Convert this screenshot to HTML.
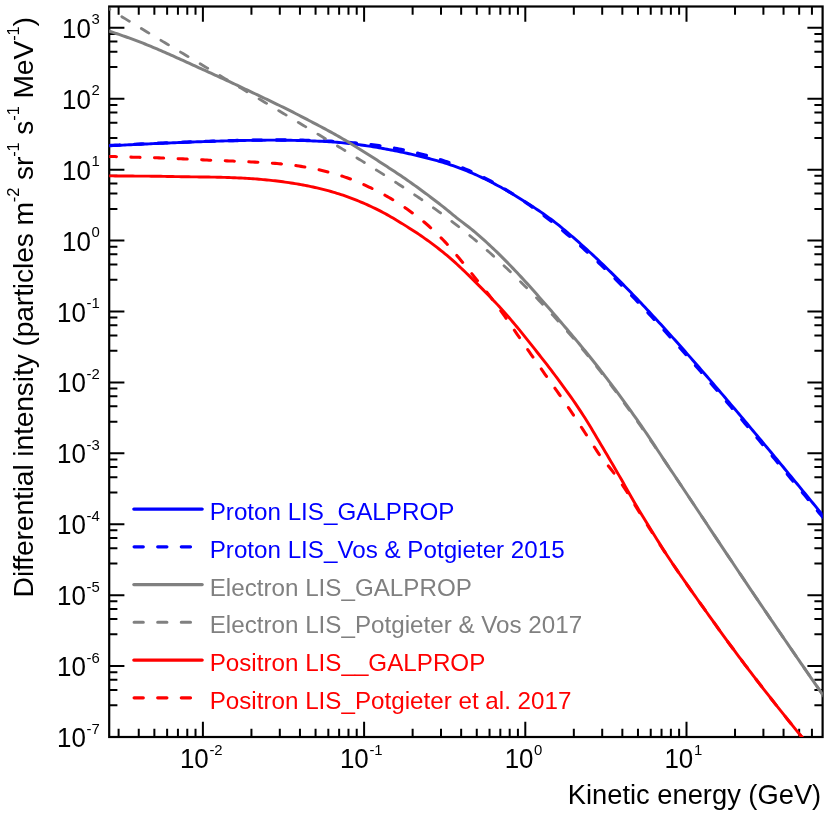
<!DOCTYPE html>
<html><head><meta charset="utf-8"><title>LIS</title>
<style>html,body{margin:0;padding:0;background:#fff;width:830px;height:830px;overflow:hidden}</style></head>
<body>
<svg width="830" height="830" viewBox="0 0 830 830" style="position:absolute;left:0;top:0;will-change:transform;font-family:'Liberation Sans',sans-serif">
<rect x="0" y="0" width="830" height="830" fill="#fff"/>
<defs><clipPath id="c"><rect x="109.2" y="6.5" width="713.4" height="730.5"/></clipPath></defs>
<path d="M202.90 737.0 V721.8 M202.90 6.5 V21.7 M364.10 737.0 V721.8 M364.10 6.5 V21.7 M525.30 737.0 V721.8 M525.30 6.5 V21.7 M686.50 737.0 V721.8 M686.50 6.5 V21.7 M118.61 737.0 V728.8 M118.61 6.5 V14.7 M138.75 737.0 V728.8 M138.75 6.5 V14.7 M154.37 737.0 V728.8 M154.37 6.5 V14.7 M167.14 737.0 V728.8 M167.14 6.5 V14.7 M177.93 737.0 V728.8 M177.93 6.5 V14.7 M187.28 737.0 V728.8 M187.28 6.5 V14.7 M195.52 737.0 V728.8 M195.52 6.5 V14.7 M251.43 737.0 V728.8 M251.43 6.5 V14.7 M279.81 737.0 V728.8 M279.81 6.5 V14.7 M299.95 737.0 V728.8 M299.95 6.5 V14.7 M315.57 737.0 V728.8 M315.57 6.5 V14.7 M328.34 737.0 V728.8 M328.34 6.5 V14.7 M339.13 737.0 V728.8 M339.13 6.5 V14.7 M348.48 737.0 V728.8 M348.48 6.5 V14.7 M356.72 737.0 V728.8 M356.72 6.5 V14.7 M412.63 737.0 V728.8 M412.63 6.5 V14.7 M441.01 737.0 V728.8 M441.01 6.5 V14.7 M461.15 737.0 V728.8 M461.15 6.5 V14.7 M476.77 737.0 V728.8 M476.77 6.5 V14.7 M489.54 737.0 V728.8 M489.54 6.5 V14.7 M500.33 737.0 V728.8 M500.33 6.5 V14.7 M509.68 737.0 V728.8 M509.68 6.5 V14.7 M517.92 737.0 V728.8 M517.92 6.5 V14.7 M573.83 737.0 V728.8 M573.83 6.5 V14.7 M602.21 737.0 V728.8 M602.21 6.5 V14.7 M622.35 737.0 V728.8 M622.35 6.5 V14.7 M637.97 737.0 V728.8 M637.97 6.5 V14.7 M650.74 737.0 V728.8 M650.74 6.5 V14.7 M661.53 737.0 V728.8 M661.53 6.5 V14.7 M670.88 737.0 V728.8 M670.88 6.5 V14.7 M679.12 737.0 V728.8 M679.12 6.5 V14.7 M735.03 737.0 V728.8 M735.03 6.5 V14.7 M763.41 737.0 V728.8 M763.41 6.5 V14.7 M783.55 737.0 V728.8 M783.55 6.5 V14.7 M799.17 737.0 V728.8 M799.17 6.5 V14.7 M811.94 737.0 V728.8 M811.94 6.5 V14.7 M109.2 737.00 H124.4 M822.6 737.00 H807.4 M109.2 705.29 H117.4 M822.6 705.29 H814.4 M109.2 690.00 H117.4 M822.6 690.00 H814.4 M109.2 679.83 H117.4 M822.6 679.83 H814.4 M109.2 672.20 H117.4 M822.6 672.20 H814.4 M109.2 666.09 H124.4 M822.6 666.09 H807.4 M109.2 634.37 H117.4 M822.6 634.37 H814.4 M109.2 619.09 H117.4 M822.6 619.09 H814.4 M109.2 608.91 H117.4 M822.6 608.91 H814.4 M109.2 601.28 H117.4 M822.6 601.28 H814.4 M109.2 595.17 H124.4 M822.6 595.17 H807.4 M109.2 563.46 H117.4 M822.6 563.46 H814.4 M109.2 548.17 H117.4 M822.6 548.17 H814.4 M109.2 538.00 H117.4 M822.6 538.00 H814.4 M109.2 530.37 H117.4 M822.6 530.37 H814.4 M109.2 524.25 H124.4 M822.6 524.25 H807.4 M109.2 492.54 H117.4 M822.6 492.54 H814.4 M109.2 477.26 H117.4 M822.6 477.26 H814.4 M109.2 467.08 H117.4 M822.6 467.08 H814.4 M109.2 459.45 H117.4 M822.6 459.45 H814.4 M109.2 453.34 H124.4 M822.6 453.34 H807.4 M109.2 421.63 H117.4 M822.6 421.63 H814.4 M109.2 406.34 H117.4 M822.6 406.34 H814.4 M109.2 396.17 H117.4 M822.6 396.17 H814.4 M109.2 388.54 H117.4 M822.6 388.54 H814.4 M109.2 382.43 H124.4 M822.6 382.43 H807.4 M109.2 350.71 H117.4 M822.6 350.71 H814.4 M109.2 335.43 H117.4 M822.6 335.43 H814.4 M109.2 325.25 H117.4 M822.6 325.25 H814.4 M109.2 317.62 H117.4 M822.6 317.62 H814.4 M109.2 311.51 H124.4 M822.6 311.51 H807.4 M109.2 279.80 H117.4 M822.6 279.80 H814.4 M109.2 264.51 H117.4 M822.6 264.51 H814.4 M109.2 254.34 H117.4 M822.6 254.34 H814.4 M109.2 246.71 H117.4 M822.6 246.71 H814.4 M109.2 240.59 H124.4 M822.6 240.59 H807.4 M109.2 208.88 H117.4 M822.6 208.88 H814.4 M109.2 193.60 H117.4 M822.6 193.60 H814.4 M109.2 183.42 H117.4 M822.6 183.42 H814.4 M109.2 175.79 H117.4 M822.6 175.79 H814.4 M109.2 169.68 H124.4 M822.6 169.68 H807.4 M109.2 137.97 H117.4 M822.6 137.97 H814.4 M109.2 122.68 H117.4 M822.6 122.68 H814.4 M109.2 112.51 H117.4 M822.6 112.51 H814.4 M109.2 104.88 H117.4 M822.6 104.88 H814.4 M109.2 98.77 H124.4 M822.6 98.77 H807.4 M109.2 67.05 H117.4 M822.6 67.05 H814.4 M109.2 51.77 H117.4 M822.6 51.77 H814.4 M109.2 41.59 H117.4 M822.6 41.59 H814.4 M109.2 33.96 H117.4 M822.6 33.96 H814.4 M109.2 27.85 H124.4 M822.6 27.85 H807.4" stroke="#000" stroke-width="2" fill="none"/>
<rect x="109.2" y="6.5" width="713.4" height="730.5" fill="none" stroke="#000" stroke-width="2.2"/>
<g clip-path="url(#c)" fill="none" stroke-linejoin="round">
<polyline points="105.00,146.06 107.00,145.96 109.00,145.85 111.00,145.74 113.00,145.64 115.00,145.53 117.00,145.43 119.00,145.33 121.00,145.22 123.00,145.12 125.00,145.02 127.00,144.92 129.00,144.82 131.00,144.72 133.00,144.62 135.00,144.52 137.00,144.42 139.00,144.32 141.00,144.22 143.00,144.13 145.00,144.03 147.00,143.94 149.00,143.84 151.00,143.75 153.00,143.66 155.00,143.57 157.00,143.47 159.00,143.38 161.00,143.29 163.00,143.21 165.00,143.12 167.00,143.03 169.00,142.94 171.00,142.86 173.00,142.77 175.00,142.69 177.00,142.61 179.00,142.52 181.00,142.44 183.00,142.36 185.00,142.28 187.00,142.20 189.00,142.13 191.00,142.05 193.00,141.97 195.00,141.90 197.00,141.82 199.00,141.75 201.00,141.68 203.00,141.61 205.00,141.54 207.00,141.47 209.00,141.41 211.00,141.34 213.00,141.28 215.00,141.21 217.00,141.15 219.00,141.09 221.00,141.03 223.00,140.97 225.00,140.92 227.00,140.86 229.00,140.81 231.00,140.76 233.00,140.71 235.00,140.66 237.00,140.61 239.00,140.57 241.00,140.52 243.00,140.48 245.00,140.44 247.00,140.40 249.00,140.37 251.00,140.33 253.00,140.30 255.00,140.27 257.00,140.25 259.00,140.23 261.00,140.21 263.00,140.19 265.00,140.18 267.00,140.17 269.00,140.16 271.00,140.16 273.00,140.15 275.00,140.16 277.00,140.16 279.00,140.17 281.00,140.19 283.00,140.20 285.00,140.22 287.00,140.25 289.00,140.28 291.00,140.31 293.00,140.34 295.00,140.38 297.00,140.43 299.00,140.47 301.00,140.53 303.00,140.58 305.00,140.64 307.00,140.71 309.00,140.78 311.00,140.85 313.00,140.93 315.00,141.01 317.00,141.10 319.00,141.19 321.00,141.29 323.00,141.39 325.00,141.50 327.00,141.61 329.00,141.73 331.00,141.86 333.00,141.99 335.00,142.14 337.00,142.30 339.00,142.46 341.00,142.64 343.00,142.83 345.00,143.03 347.00,143.23 349.00,143.45 351.00,143.68 353.00,143.91 355.00,144.16 357.00,144.41 359.00,144.67 361.00,144.94 363.00,145.22 365.00,145.51 367.00,145.81 369.00,146.11 371.00,146.43 373.00,146.75 375.00,147.07 377.00,147.41 379.00,147.75 381.00,148.11 383.00,148.46 385.00,148.83 387.00,149.20 389.00,149.58 391.00,149.97 393.00,150.36 395.00,150.76 397.00,151.17 399.00,151.58 401.00,152.00 403.00,152.43 405.00,152.86 407.00,153.29 409.00,153.74 411.00,154.19 413.00,154.64 415.00,155.10 417.00,155.56 419.00,156.04 421.00,156.52 423.00,157.00 425.00,157.50 427.00,158.00 429.00,158.52 431.00,159.05 433.00,159.58 435.00,160.13 437.00,160.69 439.00,161.27 441.00,161.86 443.00,162.46 445.00,163.07 447.00,163.71 449.00,164.36 451.00,165.02 453.00,165.70 455.00,166.40 457.00,167.12 459.00,167.86 461.00,168.62 463.00,169.39 465.00,170.18 467.00,170.99 469.00,171.82 471.00,172.66 473.00,173.52 475.00,174.40 477.00,175.29 479.00,176.20 481.00,177.13 483.00,178.08 485.00,179.04 487.00,180.02 489.00,181.02 491.00,182.03 493.00,183.06 495.00,184.10 497.00,185.17 499.00,186.25 501.00,187.34 503.00,188.45 505.00,189.58 507.00,190.72 509.00,191.88 511.00,193.06 513.00,194.25 515.00,195.45 517.00,196.67 519.00,197.91 521.00,199.16 523.00,200.41 525.00,201.67 527.00,202.94 529.00,204.22 531.00,205.50 533.00,206.80 535.00,208.11 537.00,209.44 539.00,210.78 541.00,212.14 543.00,213.52 545.00,214.93 547.00,216.35 549.00,217.80 551.00,219.28 553.00,220.78 555.00,222.32 557.00,223.88 559.00,225.48 561.00,227.11 563.00,228.75 565.00,230.41 567.00,232.09 569.00,233.78 571.00,235.49 573.00,237.21 575.00,238.94 577.00,240.69 579.00,242.45 581.00,244.23 583.00,246.02 585.00,247.82 587.00,249.63 589.00,251.46 591.00,253.31 593.00,255.16 595.00,257.03 597.00,258.91 599.00,260.80 601.00,262.70 603.00,264.62 605.00,266.55 607.00,268.49 609.00,270.44 611.00,272.40 613.00,274.37 615.00,276.35 617.00,278.35 619.00,280.35 621.00,282.37 623.00,284.39 625.00,286.43 627.00,288.47 629.00,290.53 631.00,292.59 633.00,294.67 635.00,296.75 637.00,298.84 639.00,300.94 641.00,303.05 643.00,305.17 645.00,307.30 647.00,309.43 649.00,311.57 651.00,313.72 653.00,315.88 655.00,318.05 657.00,320.22 659.00,322.40 661.00,324.59 663.00,326.78 665.00,328.98 667.00,331.19 669.00,333.40 671.00,335.62 673.00,337.85 675.00,340.08 677.00,342.32 679.00,344.56 681.00,346.81 683.00,349.07 685.00,351.33 687.00,353.60 689.00,355.87 691.00,358.14 693.00,360.43 695.00,362.71 697.00,365.00 699.00,367.30 701.00,369.60 703.00,371.90 705.00,374.21 707.00,376.53 709.00,378.84 711.00,381.17 713.00,383.49 715.00,385.82 717.00,388.15 719.00,390.49 721.00,392.83 723.00,395.17 725.00,397.52 727.00,399.87 729.00,402.23 731.00,404.58 733.00,406.95 735.00,409.31 737.00,411.68 739.00,414.05 741.00,416.42 743.00,418.79 745.00,421.17 747.00,423.55 749.00,425.93 751.00,428.32 753.00,430.71 755.00,433.10 757.00,435.49 759.00,437.89 761.00,440.28 763.00,442.68 765.00,445.08 767.00,447.49 769.00,449.89 771.00,452.30 773.00,454.71 775.00,457.12 777.00,459.54 779.00,461.95 781.00,464.37 783.00,466.79 785.00,469.21 787.00,471.63 789.00,474.05 791.00,476.48 793.00,478.90 795.00,481.33 797.00,483.76 799.00,486.19 801.00,488.63 803.00,491.06 805.00,493.49 807.00,495.93 809.00,498.37 811.00,500.81 813.00,503.25 815.00,505.69 817.00,508.13 819.00,510.57 821.00,513.02 823.00,515.46 825.00,517.91 827.00,520.36" stroke="#0000ff" stroke-width="2.9"/>
<polyline points="105.00,145.69 107.00,145.60 109.00,145.50 111.00,145.41 113.00,145.31 115.00,145.21 117.00,145.12 119.00,145.03 121.00,144.93 123.00,144.84 125.00,144.74 127.00,144.65 129.00,144.56 131.00,144.47 133.00,144.37 135.00,144.28 137.00,144.19 139.00,144.10 141.00,144.01 143.00,143.92 145.00,143.83 147.00,143.74 149.00,143.65 151.00,143.56 153.00,143.48 155.00,143.39 157.00,143.30 159.00,143.22 161.00,143.13 163.00,143.05 165.00,142.96 167.00,142.88 169.00,142.80 171.00,142.71 173.00,142.63 175.00,142.55 177.00,142.47 179.00,142.39 181.00,142.31 183.00,142.23 185.00,142.16 187.00,142.08 189.00,142.01 191.00,141.93 193.00,141.86 195.00,141.78 197.00,141.71 199.00,141.64 201.00,141.57 203.00,141.50 205.00,141.43 207.00,141.37 209.00,141.30 211.00,141.24 213.00,141.17 215.00,141.11 217.00,141.05 219.00,140.99 221.00,140.93 223.00,140.87 225.00,140.82 227.00,140.76 229.00,140.71 231.00,140.66 233.00,140.61 235.00,140.56 237.00,140.51 239.00,140.47 241.00,140.42 243.00,140.38 245.00,140.34 247.00,140.30 249.00,140.27 251.00,140.23 253.00,140.20 255.00,140.17 257.00,140.14 259.00,140.12 261.00,140.09 263.00,140.07 265.00,140.05 267.00,140.04 269.00,140.02 271.00,140.01 273.00,140.00 275.00,140.00 277.00,139.99 279.00,139.99 281.00,139.99 283.00,140.00 285.00,140.01 287.00,140.02 289.00,140.03 291.00,140.05 293.00,140.07 295.00,140.10 297.00,140.12 299.00,140.16 301.00,140.19 303.00,140.23 305.00,140.28 307.00,140.32 309.00,140.37 311.00,140.43 313.00,140.49 315.00,140.56 317.00,140.63 319.00,140.70 321.00,140.78 323.00,140.86 325.00,140.95 327.00,141.04 329.00,141.14 331.00,141.25 333.00,141.36 335.00,141.47 337.00,141.60 339.00,141.72 341.00,141.86 343.00,142.00 345.00,142.14 347.00,142.30 349.00,142.46 351.00,142.62 353.00,142.79 355.00,142.97 357.00,143.16 359.00,143.36 361.00,143.56 363.00,143.77 365.00,143.99 367.00,144.21 369.00,144.45 371.00,144.69 373.00,144.94 375.00,145.20 377.00,145.47 379.00,145.75 381.00,146.04 383.00,146.33 385.00,146.64 387.00,146.96 389.00,147.28 391.00,147.62 393.00,147.97 395.00,148.32 397.00,148.69 399.00,149.07 401.00,149.46 403.00,149.86 405.00,150.28 407.00,150.70 409.00,151.14 411.00,151.59 413.00,152.05 415.00,152.52 417.00,153.01 419.00,153.51 421.00,154.02 423.00,154.54 425.00,155.08 427.00,155.63 429.00,156.20 431.00,156.78 433.00,157.37 435.00,157.98 437.00,158.60 439.00,159.24 441.00,159.89 443.00,160.55 445.00,161.24 447.00,161.93 449.00,162.64 451.00,163.37 453.00,164.11 455.00,164.87 457.00,165.65 459.00,166.44 461.00,167.24 463.00,168.06 465.00,168.90 467.00,169.76 469.00,170.63 471.00,171.52 473.00,172.42 475.00,173.35 477.00,174.28 479.00,175.24 481.00,176.21 483.00,177.20 485.00,178.21 487.00,179.23 489.00,180.28 491.00,181.33 493.00,182.41 495.00,183.50 497.00,184.61 499.00,185.74 501.00,186.89 503.00,188.05 505.00,189.23 507.00,190.43 509.00,191.64 511.00,192.88 513.00,194.12 515.00,195.39 517.00,196.67 519.00,197.98 521.00,199.29 523.00,200.63 525.00,201.98 527.00,203.35 529.00,204.73 531.00,206.14 533.00,207.56 535.00,208.99 537.00,210.44 539.00,211.91 541.00,213.40 543.00,214.90 545.00,216.41 547.00,217.95 549.00,219.50 551.00,221.06 553.00,222.64 555.00,224.23 557.00,225.85 559.00,227.47 561.00,229.11 563.00,230.77 565.00,232.44 567.00,234.12 569.00,235.82 571.00,237.54 573.00,239.26 575.00,241.01 577.00,242.76 579.00,244.53 581.00,246.31 583.00,248.11 585.00,249.92 587.00,251.74 589.00,253.58 591.00,255.42 593.00,257.28 595.00,259.16 597.00,261.04 599.00,262.94 601.00,264.85 603.00,266.77 605.00,268.70 607.00,270.64 609.00,272.60 611.00,274.56 613.00,276.54 615.00,278.53 617.00,280.52 619.00,282.53 621.00,284.55 623.00,286.58 625.00,288.62 627.00,290.66 629.00,292.72 631.00,294.79 633.00,296.86 635.00,298.95 637.00,301.04 639.00,303.14 641.00,305.25 643.00,307.37 645.00,309.50 647.00,311.63 649.00,313.77 651.00,315.92 653.00,318.08 655.00,320.25 657.00,322.42 659.00,324.60 661.00,326.79 663.00,328.98 665.00,331.18 667.00,333.39 669.00,335.60 671.00,337.82 673.00,340.05 675.00,342.28 677.00,344.52 679.00,346.76 681.00,349.01 683.00,351.27 685.00,353.53 687.00,355.79 689.00,358.07 691.00,360.34 693.00,362.62 695.00,364.91 697.00,367.20 699.00,369.49 701.00,371.79 703.00,374.10 705.00,376.41 707.00,378.72 709.00,381.04 711.00,383.36 713.00,385.68 715.00,388.01 717.00,390.34 719.00,392.68 721.00,395.02 723.00,397.36 725.00,399.71 727.00,402.06 729.00,404.41 731.00,406.77 733.00,409.13 735.00,411.49 737.00,413.85 739.00,416.22 741.00,418.59 743.00,420.97 745.00,423.34 747.00,425.72 749.00,428.10 751.00,430.48 753.00,432.87 755.00,435.26 757.00,437.65 759.00,440.04 761.00,442.44 763.00,444.83 765.00,447.23 767.00,449.63 769.00,452.04 771.00,454.44 773.00,456.85 775.00,459.26 777.00,461.67 779.00,464.08 781.00,466.49 783.00,468.91 785.00,471.32 787.00,473.74 789.00,476.16 791.00,478.58 793.00,481.00 795.00,483.43 797.00,485.85 799.00,488.28 801.00,490.71 803.00,493.14 805.00,495.57 807.00,498.00 809.00,500.43 811.00,502.86 813.00,505.30 815.00,507.73 817.00,510.17 819.00,512.61 821.00,515.05 823.00,517.49 825.00,519.93 827.00,522.37" stroke="#0000ff" stroke-width="3.3" stroke-dasharray="9.00 14.70" stroke-dashoffset="18.08" stroke-linecap="round"/>
<polyline points="105.00,29.81 107.00,30.42 109.00,31.05 111.00,31.72 113.00,32.39 115.00,33.06 117.00,33.74 119.00,34.43 121.00,35.12 123.00,35.81 125.00,36.51 127.00,37.22 129.00,37.94 131.00,38.66 133.00,39.39 135.00,40.13 137.00,40.89 139.00,41.65 141.00,42.42 143.00,43.20 145.00,43.99 147.00,44.80 149.00,45.62 151.00,46.45 153.00,47.28 155.00,48.12 157.00,48.97 159.00,49.83 161.00,50.69 163.00,51.56 165.00,52.43 167.00,53.31 169.00,54.19 171.00,55.08 173.00,55.97 175.00,56.87 177.00,57.77 179.00,58.67 181.00,59.57 183.00,60.48 185.00,61.39 187.00,62.30 189.00,63.21 191.00,64.12 193.00,65.03 195.00,65.94 197.00,66.85 199.00,67.76 201.00,68.67 203.00,69.58 205.00,70.49 207.00,71.39 209.00,72.30 211.00,73.21 213.00,74.12 215.00,75.03 217.00,75.95 219.00,76.86 221.00,77.78 223.00,78.70 225.00,79.62 227.00,80.54 229.00,81.47 231.00,82.40 233.00,83.33 235.00,84.26 237.00,85.20 239.00,86.14 241.00,87.09 243.00,88.03 245.00,88.98 247.00,89.93 249.00,90.88 251.00,91.83 253.00,92.78 255.00,93.73 257.00,94.69 259.00,95.64 261.00,96.59 263.00,97.54 265.00,98.50 267.00,99.46 269.00,100.42 271.00,101.38 273.00,102.34 275.00,103.31 277.00,104.28 279.00,105.26 281.00,106.24 283.00,107.22 285.00,108.21 287.00,109.20 289.00,110.20 291.00,111.20 293.00,112.21 295.00,113.22 297.00,114.24 299.00,115.27 301.00,116.31 303.00,117.35 305.00,118.40 307.00,119.45 309.00,120.50 311.00,121.54 313.00,122.59 315.00,123.64 317.00,124.68 319.00,125.73 321.00,126.79 323.00,127.84 325.00,128.91 327.00,129.98 329.00,131.06 331.00,132.15 333.00,133.25 335.00,134.36 337.00,135.48 339.00,136.62 341.00,137.77 343.00,138.93 345.00,140.12 347.00,141.32 349.00,142.54 351.00,143.77 353.00,145.00 355.00,146.24 357.00,147.48 359.00,148.72 361.00,149.97 363.00,151.22 365.00,152.48 367.00,153.74 369.00,155.01 371.00,156.27 373.00,157.55 375.00,158.83 377.00,160.11 379.00,161.39 381.00,162.68 383.00,163.98 385.00,165.28 387.00,166.58 389.00,167.89 391.00,169.20 393.00,170.52 395.00,171.85 397.00,173.17 399.00,174.51 401.00,175.86 403.00,177.23 405.00,178.60 407.00,179.98 409.00,181.38 411.00,182.79 413.00,184.21 415.00,185.63 417.00,187.07 419.00,188.52 421.00,189.98 423.00,191.45 425.00,192.93 427.00,194.42 429.00,195.92 431.00,197.43 433.00,198.95 435.00,200.48 437.00,202.02 439.00,203.56 441.00,205.12 443.00,206.69 445.00,208.26 447.00,209.87 449.00,211.51 451.00,213.16 453.00,214.81 455.00,216.45 457.00,218.06 459.00,219.62 461.00,221.16 463.00,222.68 465.00,224.20 467.00,225.72 469.00,227.27 471.00,228.84 473.00,230.46 475.00,232.13 477.00,233.83 479.00,235.56 481.00,237.32 483.00,239.11 485.00,240.92 487.00,242.75 489.00,244.61 491.00,246.48 493.00,248.37 495.00,250.28 497.00,252.20 499.00,254.13 501.00,256.09 503.00,258.08 505.00,260.09 507.00,262.12 509.00,264.18 511.00,266.25 513.00,268.35 515.00,270.46 517.00,272.58 519.00,274.71 521.00,276.86 523.00,279.01 525.00,281.19 527.00,283.38 529.00,285.60 531.00,287.83 533.00,290.07 535.00,292.33 537.00,294.59 539.00,296.87 541.00,299.14 543.00,301.42 545.00,303.70 547.00,305.98 549.00,308.27 551.00,310.58 553.00,312.89 555.00,315.22 557.00,317.56 559.00,319.91 561.00,322.26 563.00,324.61 565.00,326.97 567.00,329.32 569.00,331.67 571.00,334.02 573.00,336.37 575.00,338.74 577.00,341.12 579.00,343.51 581.00,345.92 583.00,348.34 585.00,350.78 587.00,353.23 589.00,355.70 591.00,358.19 593.00,360.69 595.00,363.21 597.00,365.74 599.00,368.29 601.00,370.86 603.00,373.44 605.00,376.04 607.00,378.66 609.00,381.29 611.00,383.93 613.00,386.59 615.00,389.27 617.00,391.96 619.00,394.66 621.00,397.38 623.00,400.12 625.00,402.87 627.00,405.64 629.00,408.42 631.00,411.21 633.00,414.02 635.00,416.85 637.00,419.68 639.00,422.53 641.00,425.40 643.00,428.30 645.00,431.23 647.00,434.18 649.00,437.16 651.00,440.15 653.00,443.16 655.00,446.19 657.00,449.21 659.00,452.25 661.00,455.28 663.00,458.30 665.00,461.32 667.00,464.33 669.00,467.32 671.00,470.29 673.00,473.27 675.00,476.25 677.00,479.24 679.00,482.22 681.00,485.22 683.00,488.21 685.00,491.21 687.00,494.21 689.00,497.21 691.00,500.22 693.00,503.23 695.00,506.23 697.00,509.24 699.00,512.25 701.00,515.26 703.00,518.27 705.00,521.28 707.00,524.29 709.00,527.30 711.00,530.30 713.00,533.31 715.00,536.32 717.00,539.32 719.00,542.32 721.00,545.32 723.00,548.32 725.00,551.32 727.00,554.31 729.00,557.30 731.00,560.29 733.00,563.28 735.00,566.27 737.00,569.25 739.00,572.23 741.00,575.21 743.00,578.18 745.00,581.15 747.00,584.12 749.00,587.09 751.00,590.05 753.00,593.01 755.00,595.97 757.00,598.93 759.00,601.88 761.00,604.83 763.00,607.77 765.00,610.72 767.00,613.66 769.00,616.60 771.00,619.54 773.00,622.47 775.00,625.40 777.00,628.33 779.00,631.25 781.00,634.18 783.00,637.10 785.00,640.02 787.00,642.93 789.00,645.85 791.00,648.76 793.00,651.67 795.00,654.58 797.00,657.49 799.00,660.39 801.00,663.29 803.00,666.20 805.00,669.10 807.00,671.99 809.00,674.89 811.00,677.78 813.00,680.68 815.00,683.57 817.00,686.46 819.00,689.35 821.00,692.23 823.00,695.12 825.00,698.01 827.00,700.89" stroke="#808080" stroke-width="3.0"/>
<polyline points="105.00,6.42 107.00,7.65 109.00,8.88 111.00,10.11 113.00,11.34 115.00,12.56 117.00,13.78 119.00,15.00 121.00,16.22 123.00,17.44 125.00,18.66 127.00,19.87 129.00,21.09 131.00,22.30 133.00,23.51 135.00,24.72 137.00,25.93 139.00,27.14 141.00,28.35 143.00,29.56 145.00,30.76 147.00,31.97 149.00,33.17 151.00,34.38 153.00,35.58 155.00,36.78 157.00,37.98 159.00,39.18 161.00,40.38 163.00,41.58 165.00,42.78 167.00,43.98 169.00,45.18 171.00,46.38 173.00,47.57 175.00,48.77 177.00,49.97 179.00,51.16 181.00,52.36 183.00,53.55 185.00,54.75 187.00,55.94 189.00,57.14 191.00,58.33 193.00,59.53 195.00,60.72 197.00,61.91 199.00,63.11 201.00,64.30 203.00,65.49 205.00,66.69 207.00,67.88 209.00,69.07 211.00,70.26 213.00,71.46 215.00,72.65 217.00,73.84 219.00,75.03 221.00,76.23 223.00,77.42 225.00,78.61 227.00,79.80 229.00,80.99 231.00,82.19 233.00,83.38 235.00,84.57 237.00,85.76 239.00,86.95 241.00,88.15 243.00,89.34 245.00,90.53 247.00,91.72 249.00,92.92 251.00,94.11 253.00,95.30 255.00,96.49 257.00,97.69 259.00,98.88 261.00,100.07 263.00,101.27 265.00,102.46 267.00,103.65 269.00,104.85 271.00,106.04 273.00,107.24 275.00,108.43 277.00,109.63 279.00,110.82 281.00,112.02 283.00,113.21 285.00,114.41 287.00,115.61 289.00,116.80 291.00,118.00 293.00,119.20 295.00,120.40 297.00,121.60 299.00,122.80 301.00,124.00 303.00,125.20 305.00,126.40 307.00,127.60 309.00,128.80 311.00,130.00 313.00,131.21 315.00,132.41 317.00,133.62 319.00,134.82 321.00,136.03 323.00,137.24 325.00,138.45 327.00,139.66 329.00,140.87 331.00,142.08 333.00,143.29 335.00,144.51 337.00,145.72 339.00,146.94 341.00,148.16 343.00,149.38 345.00,150.60 347.00,151.82 349.00,153.04 351.00,154.27 353.00,155.50 355.00,156.73 357.00,157.96 359.00,159.19 361.00,160.43 363.00,161.66 365.00,162.90 367.00,164.15 369.00,165.39 371.00,166.64 373.00,167.89 375.00,169.14 377.00,170.40 379.00,171.66 381.00,172.92 383.00,174.19 385.00,175.46 387.00,176.73 389.00,178.01 391.00,179.29 393.00,180.58 395.00,181.87 397.00,183.16 399.00,184.46 401.00,185.77 403.00,187.08 405.00,188.39 407.00,189.72 409.00,191.04 411.00,192.38 413.00,193.72 415.00,195.06 417.00,196.42 419.00,197.78 421.00,199.14 423.00,200.52 425.00,201.90 427.00,203.30 429.00,204.70 431.00,206.11 433.00,207.52 435.00,208.95 437.00,210.39 439.00,211.84 441.00,213.29 443.00,214.76 445.00,216.24 447.00,217.73 449.00,219.24 451.00,220.75 453.00,222.28 455.00,223.81 457.00,225.37 459.00,226.93 461.00,228.51 463.00,230.10 465.00,231.70 467.00,233.32 469.00,234.95 471.00,236.59 473.00,238.25 475.00,239.92 477.00,241.61 479.00,243.31 481.00,245.03 483.00,246.76 485.00,248.50 487.00,250.26 489.00,252.03 491.00,253.82 493.00,255.61 495.00,257.43 497.00,259.25 499.00,261.09 501.00,262.95 503.00,264.81 505.00,266.69 507.00,268.58 509.00,270.49 511.00,272.40 513.00,274.33 515.00,276.27 517.00,278.23 519.00,280.19 521.00,282.17 523.00,284.15 525.00,286.15 527.00,288.17 529.00,290.19 531.00,292.22 533.00,294.27 535.00,296.33 537.00,298.40 539.00,300.48 541.00,302.58 543.00,304.69 545.00,306.80 547.00,308.94 549.00,311.08 551.00,313.24 553.00,315.41 555.00,317.60 557.00,319.80 559.00,322.01 561.00,324.24 563.00,326.48 565.00,328.74 567.00,331.02 569.00,333.30 571.00,335.61 573.00,337.93 575.00,340.26 577.00,342.62 579.00,344.99 581.00,347.37 583.00,349.77 585.00,352.19 587.00,354.63 589.00,357.08 591.00,359.55 593.00,362.04 595.00,364.54 597.00,367.06 599.00,369.60 601.00,372.15 603.00,374.73 605.00,377.31 607.00,379.92 609.00,382.54 611.00,385.17 613.00,387.83 615.00,390.50 617.00,393.18 619.00,395.88 621.00,398.59 623.00,401.32 625.00,404.06 627.00,406.82 629.00,409.59 631.00,412.38 633.00,415.18 635.00,417.99 637.00,420.81 639.00,423.64 641.00,426.49 643.00,429.35 645.00,432.21 647.00,435.09 649.00,437.98 651.00,440.88 653.00,443.79 655.00,446.70 657.00,449.63 659.00,452.56 661.00,455.50 663.00,458.44 665.00,461.40 667.00,464.36 669.00,467.32 671.00,470.29 673.00,473.27 675.00,476.25 677.00,479.24 679.00,482.22 681.00,485.22 683.00,488.21 685.00,491.21 687.00,494.21 689.00,497.21 691.00,500.22 693.00,503.23 695.00,506.23 697.00,509.24 699.00,512.25 701.00,515.26 703.00,518.27 705.00,521.28 707.00,524.29 709.00,527.30 711.00,530.30 713.00,533.31 715.00,536.32 717.00,539.32 719.00,542.32 721.00,545.32 723.00,548.32 725.00,551.32 727.00,554.31 729.00,557.30 731.00,560.29 733.00,563.28 735.00,566.27 737.00,569.25 739.00,572.23 741.00,575.21 743.00,578.18 745.00,581.15 747.00,584.12 749.00,587.09 751.00,590.05 753.00,593.01 755.00,595.97 757.00,598.93 759.00,601.88 761.00,604.83 763.00,607.77 765.00,610.72 767.00,613.66 769.00,616.60 771.00,619.54 773.00,622.47 775.00,625.40 777.00,628.33 779.00,631.25 781.00,634.18 783.00,637.10 785.00,640.02 787.00,642.93 789.00,645.85 791.00,648.76 793.00,651.67 795.00,654.58 797.00,657.49 799.00,660.39 801.00,663.29 803.00,666.20 805.00,669.10 807.00,671.99 809.00,674.89 811.00,677.78 813.00,680.68 815.00,683.57 817.00,686.46 819.00,689.35 821.00,692.23 823.00,695.12 825.00,698.01 827.00,700.89" stroke="#808080" stroke-width="2.8" stroke-dasharray="8.80 14.05" stroke-dashoffset="3.14" stroke-linecap="round"/>
<polyline points="105.00,175.87 107.00,175.88 109.00,175.89 111.00,175.91 113.00,175.92 115.00,175.94 117.00,175.95 119.00,175.96 121.00,175.98 123.00,175.99 125.00,176.00 127.00,176.02 129.00,176.03 131.00,176.05 133.00,176.06 135.00,176.08 137.00,176.09 139.00,176.10 141.00,176.12 143.00,176.13 145.00,176.15 147.00,176.16 149.00,176.17 151.00,176.19 153.00,176.21 155.00,176.23 157.00,176.26 159.00,176.29 161.00,176.32 163.00,176.36 165.00,176.40 167.00,176.44 169.00,176.48 171.00,176.52 173.00,176.56 175.00,176.59 177.00,176.63 179.00,176.67 181.00,176.70 183.00,176.74 185.00,176.77 187.00,176.80 189.00,176.82 191.00,176.85 193.00,176.87 195.00,176.90 197.00,176.92 199.00,176.94 201.00,176.96 203.00,176.98 205.00,177.00 207.00,177.03 209.00,177.05 211.00,177.09 213.00,177.12 215.00,177.16 217.00,177.20 219.00,177.25 221.00,177.30 223.00,177.35 225.00,177.41 227.00,177.47 229.00,177.54 231.00,177.61 233.00,177.69 235.00,177.77 237.00,177.86 239.00,177.95 241.00,178.05 243.00,178.15 245.00,178.27 247.00,178.38 249.00,178.51 251.00,178.64 253.00,178.78 255.00,178.92 257.00,179.07 259.00,179.23 261.00,179.40 263.00,179.58 265.00,179.76 267.00,179.95 269.00,180.15 271.00,180.36 273.00,180.58 275.00,180.80 277.00,181.04 279.00,181.28 281.00,181.54 283.00,181.80 285.00,182.07 287.00,182.36 289.00,182.65 291.00,182.95 293.00,183.27 295.00,183.59 297.00,183.93 299.00,184.28 301.00,184.64 303.00,185.01 305.00,185.39 307.00,185.78 309.00,186.19 311.00,186.61 313.00,187.04 315.00,187.48 317.00,187.93 319.00,188.40 321.00,188.89 323.00,189.38 325.00,189.89 327.00,190.41 329.00,190.95 331.00,191.50 333.00,192.07 335.00,192.66 337.00,193.27 339.00,193.90 341.00,194.54 343.00,195.21 345.00,195.90 347.00,196.60 349.00,197.33 351.00,198.07 353.00,198.83 355.00,199.61 357.00,200.41 359.00,201.22 361.00,202.06 363.00,202.91 365.00,203.78 367.00,204.67 369.00,205.58 371.00,206.51 373.00,207.45 375.00,208.41 377.00,209.39 379.00,210.38 381.00,211.40 383.00,212.44 385.00,213.52 387.00,214.61 389.00,215.74 391.00,216.89 393.00,218.05 395.00,219.24 397.00,220.44 399.00,221.66 401.00,222.89 403.00,224.13 405.00,225.38 407.00,226.64 409.00,227.90 411.00,229.16 413.00,230.44 415.00,231.74 417.00,233.07 419.00,234.41 421.00,235.77 423.00,237.16 425.00,238.57 427.00,239.99 429.00,241.44 431.00,242.91 433.00,244.40 435.00,245.91 437.00,247.45 439.00,249.00 441.00,250.58 443.00,252.17 445.00,253.79 447.00,255.44 449.00,257.13 451.00,258.86 453.00,260.63 455.00,262.44 457.00,264.27 459.00,266.12 461.00,267.98 463.00,269.86 465.00,271.77 467.00,273.71 469.00,275.66 471.00,277.64 473.00,279.63 475.00,281.63 477.00,283.63 479.00,285.63 481.00,287.63 483.00,289.64 485.00,291.66 487.00,293.69 489.00,295.73 491.00,297.79 493.00,299.88 495.00,301.99 497.00,304.12 499.00,306.29 501.00,308.49 503.00,310.72 505.00,312.97 507.00,315.25 509.00,317.56 511.00,319.89 513.00,322.24 515.00,324.61 517.00,327.01 519.00,329.43 521.00,331.88 523.00,334.34 525.00,336.82 527.00,339.32 529.00,341.84 531.00,344.38 533.00,346.92 535.00,349.46 537.00,351.99 539.00,354.52 541.00,357.05 543.00,359.58 545.00,362.13 547.00,364.70 549.00,367.29 551.00,369.91 553.00,372.56 555.00,375.25 557.00,377.95 559.00,380.66 561.00,383.38 563.00,386.10 565.00,388.84 567.00,391.60 569.00,394.38 571.00,397.20 573.00,400.04 575.00,402.93 577.00,405.85 579.00,408.83 581.00,411.85 583.00,414.94 585.00,418.08 587.00,421.29 589.00,424.55 591.00,427.85 593.00,431.19 595.00,434.55 597.00,437.92 599.00,441.29 601.00,444.65 603.00,448.02 605.00,451.41 607.00,454.80 609.00,458.21 611.00,461.63 613.00,465.05 615.00,468.48 617.00,471.93 619.00,475.37 621.00,478.83 623.00,482.33 625.00,485.85 627.00,489.38 629.00,492.92 631.00,496.45 633.00,499.96 635.00,503.43 637.00,506.85 639.00,510.21 641.00,513.50 643.00,516.78 645.00,520.05 647.00,523.31 649.00,526.57 651.00,529.80 653.00,533.03 655.00,536.25 657.00,539.45 659.00,542.64 661.00,545.81 663.00,548.97 665.00,552.11 667.00,555.21 669.00,558.26 671.00,561.28 673.00,564.26 675.00,567.21 677.00,570.13 679.00,573.03 681.00,575.92 683.00,578.79 685.00,581.66 687.00,584.52 689.00,587.39 691.00,590.26 693.00,593.11 695.00,595.95 697.00,598.77 699.00,601.58 701.00,604.38 703.00,607.18 705.00,609.97 707.00,612.76 709.00,615.56 711.00,618.36 713.00,621.17 715.00,623.97 717.00,626.76 719.00,629.54 721.00,632.31 723.00,635.07 725.00,637.82 727.00,640.56 729.00,643.30 731.00,646.02 733.00,648.73 735.00,651.43 737.00,654.12 739.00,656.81 741.00,659.48 743.00,662.14 745.00,664.80 747.00,667.44 749.00,670.08 751.00,672.70 753.00,675.32 755.00,677.93 757.00,680.53 759.00,683.12 761.00,685.70 763.00,688.27 765.00,690.84 767.00,693.41 769.00,695.96 771.00,698.52 773.00,701.06 775.00,703.60 777.00,706.13 779.00,708.66 781.00,711.18 783.00,713.69 785.00,716.20 787.00,718.69 789.00,721.18 791.00,723.67 793.00,726.14 795.00,728.61 797.00,731.07 799.00,733.53 801.00,735.97 803.00,738.42 805.00,740.85 807.00,743.29 809.00,745.72 811.00,748.15 813.00,750.58 815.00,753.00 817.00,755.42 819.00,757.84 821.00,760.26 823.00,762.67 825.00,765.09 827.00,767.50" stroke="#ff0000" stroke-width="2.9"/>
<polyline points="105.00,156.29 107.00,156.36 109.00,156.42 111.00,156.48 113.00,156.54 115.00,156.60 117.00,156.67 119.00,156.73 121.00,156.79 123.00,156.85 125.00,156.91 127.00,156.98 129.00,157.04 131.00,157.11 133.00,157.17 135.00,157.23 137.00,157.28 139.00,157.33 141.00,157.37 143.00,157.41 145.00,157.44 147.00,157.48 149.00,157.52 151.00,157.58 153.00,157.64 155.00,157.70 157.00,157.78 159.00,157.86 161.00,157.94 163.00,158.03 165.00,158.12 167.00,158.21 169.00,158.31 171.00,158.40 173.00,158.49 175.00,158.58 177.00,158.66 179.00,158.74 181.00,158.82 183.00,158.89 185.00,158.97 187.00,159.05 189.00,159.14 191.00,159.24 193.00,159.33 195.00,159.44 197.00,159.54 199.00,159.65 201.00,159.75 203.00,159.86 205.00,159.97 207.00,160.07 209.00,160.17 211.00,160.27 213.00,160.36 215.00,160.44 217.00,160.52 219.00,160.59 221.00,160.66 223.00,160.72 225.00,160.79 227.00,160.87 229.00,160.94 231.00,161.02 233.00,161.10 235.00,161.18 237.00,161.26 239.00,161.35 241.00,161.44 243.00,161.53 245.00,161.63 247.00,161.72 249.00,161.82 251.00,161.92 253.00,162.02 255.00,162.13 257.00,162.23 259.00,162.34 261.00,162.45 263.00,162.56 265.00,162.68 267.00,162.80 269.00,162.93 271.00,163.07 273.00,163.22 275.00,163.37 277.00,163.54 279.00,163.71 281.00,163.89 283.00,164.08 285.00,164.29 287.00,164.50 289.00,164.73 291.00,164.97 293.00,165.22 295.00,165.49 297.00,165.77 299.00,166.07 301.00,166.38 303.00,166.71 305.00,167.04 307.00,167.40 309.00,167.76 311.00,168.14 313.00,168.53 315.00,168.94 317.00,169.36 319.00,169.80 321.00,170.25 323.00,170.72 325.00,171.21 327.00,171.71 329.00,172.22 331.00,172.76 333.00,173.32 335.00,173.90 337.00,174.50 339.00,175.12 341.00,175.76 343.00,176.42 345.00,177.10 347.00,177.80 349.00,178.51 351.00,179.25 353.00,180.01 355.00,180.80 357.00,181.62 359.00,182.46 361.00,183.33 363.00,184.21 365.00,185.12 367.00,186.06 369.00,187.01 371.00,187.98 373.00,188.96 375.00,189.96 377.00,190.98 379.00,192.02 381.00,193.06 383.00,194.13 385.00,195.23 387.00,196.35 389.00,197.49 391.00,198.67 393.00,199.87 395.00,201.09 397.00,202.35 399.00,203.63 401.00,204.94 403.00,206.28 405.00,207.65 407.00,209.04 409.00,210.47 411.00,211.93 413.00,213.40 415.00,214.89 417.00,216.41 419.00,217.95 421.00,219.52 423.00,221.13 425.00,222.79 427.00,224.50 429.00,226.26 431.00,228.07 433.00,229.92 435.00,231.81 437.00,233.75 439.00,235.73 441.00,237.75 443.00,239.81 445.00,241.91 447.00,244.06 449.00,246.27 451.00,248.56 453.00,250.89 455.00,253.26 457.00,255.65 459.00,258.05 461.00,260.44 463.00,262.83 465.00,265.23 467.00,267.67 469.00,270.13 471.00,272.62 473.00,275.14 475.00,277.69 477.00,280.24 479.00,282.73 481.00,285.17 483.00,287.59 485.00,290.01 487.00,292.47 489.00,295.01 491.00,297.62 493.00,300.27 495.00,302.93 497.00,305.63 499.00,308.35 501.00,311.10 503.00,313.89 505.00,316.72 507.00,319.58 509.00,322.45 511.00,325.33 513.00,328.22 515.00,331.13 517.00,334.05 519.00,336.97 521.00,339.90 523.00,342.81 525.00,345.70 527.00,348.57 529.00,351.43 531.00,354.28 533.00,357.13 535.00,359.98 537.00,362.83 539.00,365.69 541.00,368.57 543.00,371.43 545.00,374.27 547.00,377.10 549.00,379.92 551.00,382.73 553.00,385.54 555.00,388.36 557.00,391.17 559.00,394.00 561.00,396.84 563.00,399.69 565.00,402.57 567.00,405.47 569.00,408.41 571.00,411.37 573.00,414.37 575.00,417.40 577.00,420.45 579.00,423.52 581.00,426.59 583.00,429.67 585.00,432.75 587.00,435.83 589.00,438.88 591.00,441.93 593.00,444.98 595.00,448.04 597.00,451.11 599.00,454.17 601.00,456.90 603.00,459.33 605.00,461.79 607.00,464.27 609.00,466.77 611.00,469.31 613.00,471.91 615.00,474.56 617.00,477.29 619.00,480.08 621.00,482.93 623.00,485.88 625.00,488.92 627.00,492.04 629.00,495.24 631.00,498.50 633.00,501.82 635.00,505.18 637.00,508.50 639.00,511.76 641.00,514.95 643.00,518.13 645.00,521.30 647.00,524.46 649.00,527.62 651.00,530.75 653.00,533.88 655.00,537.00 657.00,540.10 659.00,543.19 661.00,546.26 663.00,549.32 665.00,552.36 667.00,555.36 669.00,558.31 671.00,561.28 673.00,564.26 675.00,567.21 677.00,570.13 679.00,573.03 681.00,575.92 683.00,578.79 685.00,581.66 687.00,584.52 689.00,587.39 691.00,590.26 693.00,593.11 695.00,595.95 697.00,598.77 699.00,601.58 701.00,604.38 703.00,607.18 705.00,609.97 707.00,612.76 709.00,615.56 711.00,618.36 713.00,621.17 715.00,623.97 717.00,626.76 719.00,629.54 721.00,632.31 723.00,635.07 725.00,637.82 727.00,640.56 729.00,643.30 731.00,646.02 733.00,648.73 735.00,651.43 737.00,654.12 739.00,656.81 741.00,659.48 743.00,662.14 745.00,664.80 747.00,667.44 749.00,670.08 751.00,672.70 753.00,675.32 755.00,677.93 757.00,680.53 759.00,683.12 761.00,685.70 763.00,688.27 765.00,690.84 767.00,693.41 769.00,695.96 771.00,698.52 773.00,701.06 775.00,703.60 777.00,706.13 779.00,708.66 781.00,711.18 783.00,713.69 785.00,716.20 787.00,718.69 789.00,721.18 791.00,723.67 793.00,726.14 795.00,728.61 797.00,731.07 799.00,733.53 801.00,735.97 803.00,738.42 805.00,740.85 807.00,743.29 809.00,745.72 811.00,748.15 813.00,750.58 815.00,753.00 817.00,755.42 819.00,757.84 821.00,760.26 823.00,762.67 825.00,765.09 827.00,767.50" stroke="#ff0000" stroke-width="3.05" stroke-dasharray="9.15 14.45" stroke-dashoffset="21.29" stroke-linecap="round"/>
</g>
<text transform="translate(179.95 768.00) scale(0.94 1)" font-size="27.6">10</text><text x="209.40" y="754.50" font-size="14.9">-2</text>
<text transform="translate(339.95 768.00) scale(0.94 1)" font-size="27.6">10</text><text x="369.40" y="754.50" font-size="14.9">-1</text>
<text transform="translate(504.63 768.00) scale(0.94 1)" font-size="27.6">10</text><text x="534.08" y="754.50" font-size="14.9">0</text>
<text transform="translate(664.43 768.00) scale(0.94 1)" font-size="27.6">10</text><text x="693.88" y="754.50" font-size="14.9">1</text>
<text transform="translate(57.10 747.00) scale(0.94 1)" font-size="27.6">10</text><text x="86.55" y="733.50" font-size="14.9">-7</text>
<text transform="translate(57.10 676.09) scale(0.94 1)" font-size="27.6">10</text><text x="86.55" y="662.59" font-size="14.9">-6</text>
<text transform="translate(57.10 605.17) scale(0.94 1)" font-size="27.6">10</text><text x="86.55" y="591.67" font-size="14.9">-5</text>
<text transform="translate(57.10 534.25) scale(0.94 1)" font-size="27.6">10</text><text x="86.55" y="520.75" font-size="14.9">-4</text>
<text transform="translate(57.10 463.34) scale(0.94 1)" font-size="27.6">10</text><text x="86.55" y="449.84" font-size="14.9">-3</text>
<text transform="translate(57.10 392.43) scale(0.94 1)" font-size="27.6">10</text><text x="86.55" y="378.93" font-size="14.9">-2</text>
<text transform="translate(57.10 321.51) scale(0.94 1)" font-size="27.6">10</text><text x="86.55" y="308.01" font-size="14.9">-1</text>
<text transform="translate(62.07 250.59) scale(0.94 1)" font-size="27.6">10</text><text x="91.52" y="237.09" font-size="14.9">0</text>
<text transform="translate(62.07 179.68) scale(0.94 1)" font-size="27.6">10</text><text x="91.52" y="166.18" font-size="14.9">1</text>
<text transform="translate(62.07 108.77) scale(0.94 1)" font-size="27.6">10</text><text x="91.52" y="95.27" font-size="14.9">2</text>
<text transform="translate(62.07 37.85) scale(0.94 1)" font-size="27.6">10</text><text x="91.52" y="24.35" font-size="14.9">3</text>
<text x="821.2" y="804.3" text-anchor="end" font-size="27.3">Kinetic energy (GeV)</text>
<text transform="translate(32.7 597.4) rotate(-90)" font-size="28.3" letter-spacing="-0.15">Differential intensity (particles m<tspan font-size="16.5" dy="-13.6">-2</tspan><tspan dy="13.6"> sr</tspan><tspan font-size="16.5" dy="-13.6">-1</tspan><tspan dy="13.6"> s</tspan><tspan font-size="16.5" dy="-13.6">-1</tspan><tspan dy="13.6"> MeV</tspan><tspan font-size="16.5" dy="-13.6">-1</tspan><tspan dy="13.6">)</tspan></text>
<path d="M133.8 509.10 H202.2" stroke="#0000ff" stroke-width="3.2" stroke-linecap="round" fill="none"/>
<text x="209.7" y="520.20" font-size="24.2" fill="#0000ff">Proton LIS_GALPROP</text>
<path d="M134.1 546.84 H203" stroke="#0000ff" stroke-width="3.2" stroke-dasharray="9.2 14.4" stroke-linecap="round" fill="none"/>
<text x="209.7" y="557.94" font-size="24.2" fill="#0000ff">Proton LIS_Vos &amp; Potgieter 2015</text>
<path d="M133.8 584.58 H202.2" stroke="#808080" stroke-width="3.1" stroke-linecap="round" fill="none"/>
<text x="209.7" y="595.68" font-size="24.2" fill="#808080">Electron LIS_GALPROP</text>
<path d="M134.1 622.32 H203" stroke="#808080" stroke-width="3.1" stroke-dasharray="9.2 14.4" stroke-linecap="round" fill="none"/>
<text x="209.7" y="633.42" font-size="24.2" fill="#808080">Electron LIS_Potgieter &amp; Vos 2017</text>
<path d="M133.8 660.06 H202.2" stroke="#ff0000" stroke-width="3.2" stroke-linecap="round" fill="none"/>
<text x="209.7" y="671.16" font-size="24.2" fill="#ff0000">Positron LIS__GALPROP</text>
<path d="M134.1 697.80 H203" stroke="#ff0000" stroke-width="3.2" stroke-dasharray="9.2 14.4" stroke-linecap="round" fill="none"/>
<text x="209.7" y="708.90" font-size="24.2" fill="#ff0000">Positron LIS_Potgieter et al. 2017</text>
</svg>
</body></html>
